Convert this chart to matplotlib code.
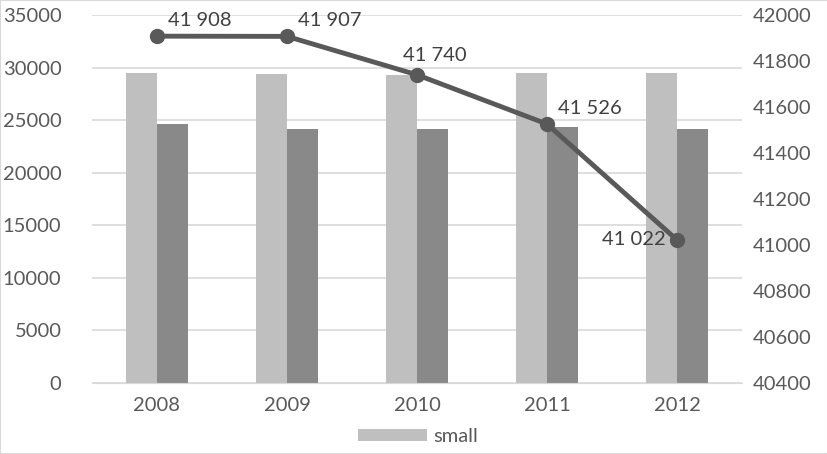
import numpy as np
import matplotlib.pyplot as plt

plt.rcParams["font.family"] = ["Lato", "DejaVu Sans"]

years = ["2008", "2009", "2010", "2011", "2012"]
small = [29500, 29400, 29300, 29500, 29450]
other = [24600, 24150, 24150, 24350, 24150]
total = [41908, 41907, 41740, 41526, 41022]
total_labels = ["41 908", "41 907", "41 740", "41 526", "41 022"]

text_col = "#595959"
grid_col = "#d9d9d9"
fs = 14.5

fig = plt.figure(figsize=(8.28, 4.54), dpi=100)
ax = fig.add_axes([92 / 828, 1 - 383 / 454, 650 / 828, 368 / 454])
x = np.arange(len(years))
w = 0.24
ax.bar(x - w / 2, small, w, color="#bfbfbf", label="small", zorder=2)
ax.bar(x + w / 2, other, w, color="#898989", zorder=2)
ax.set_xlim(-0.5, len(years) - 0.5)
ax.set_ylim(0, 35000)
ax.set_yticks(np.arange(0, 35001, 5000))
ax.yaxis.grid(True, color=grid_col, lw=1.2, zorder=0)
ax.set_xticks(x)
ax.set_xticklabels(years)
for s in ["top", "right", "left"]:
    ax.spines[s].set_visible(False)
ax.spines["bottom"].set_color(grid_col)
ax.tick_params(length=0, labelsize=fs, colors=text_col, pad=10)
ax.tick_params(axis="y", pad=22)

ax2 = ax.twinx()
ax2.plot(x, total, color=text_col, lw=3.5, marker="o", ms=10, zorder=5)
ax2.set_ylim(40400, 42000)
ax2.set_yticks(np.arange(40400, 42001, 200))
for s in ax2.spines.values():
    s.set_visible(False)
ax2.tick_params(length=0, labelsize=fs, colors=text_col, pad=8)

offsets = [(8, 5, "left", "bottom"), (8, 5, "left", "bottom"), (13, 8, "center", "bottom"),
           (8, 5, "left", "bottom"), (-8, 0, "right", "center")]
for xi, v, lab, (dx, dy, ha, va) in zip(x, total, total_labels, offsets):
    ax2.annotate(lab, (xi, v), xytext=(dx, dy), textcoords="offset points",
                 ha=ha, va=va, fontsize=fs, color="#404040")

fig.legend(loc="lower center", bbox_to_anchor=(0.505, -0.02), frameon=False,
           fontsize=fs, handlelength=3.4, handleheight=0.55, handletextpad=0.3,
           labelcolor=text_col)

fig.patches.append(plt.Rectangle((0, 0), 1, 1, transform=fig.transFigure, fill=False,
                                 edgecolor=grid_col, lw=1.5))
fig.savefig("out.png", dpi=100)
